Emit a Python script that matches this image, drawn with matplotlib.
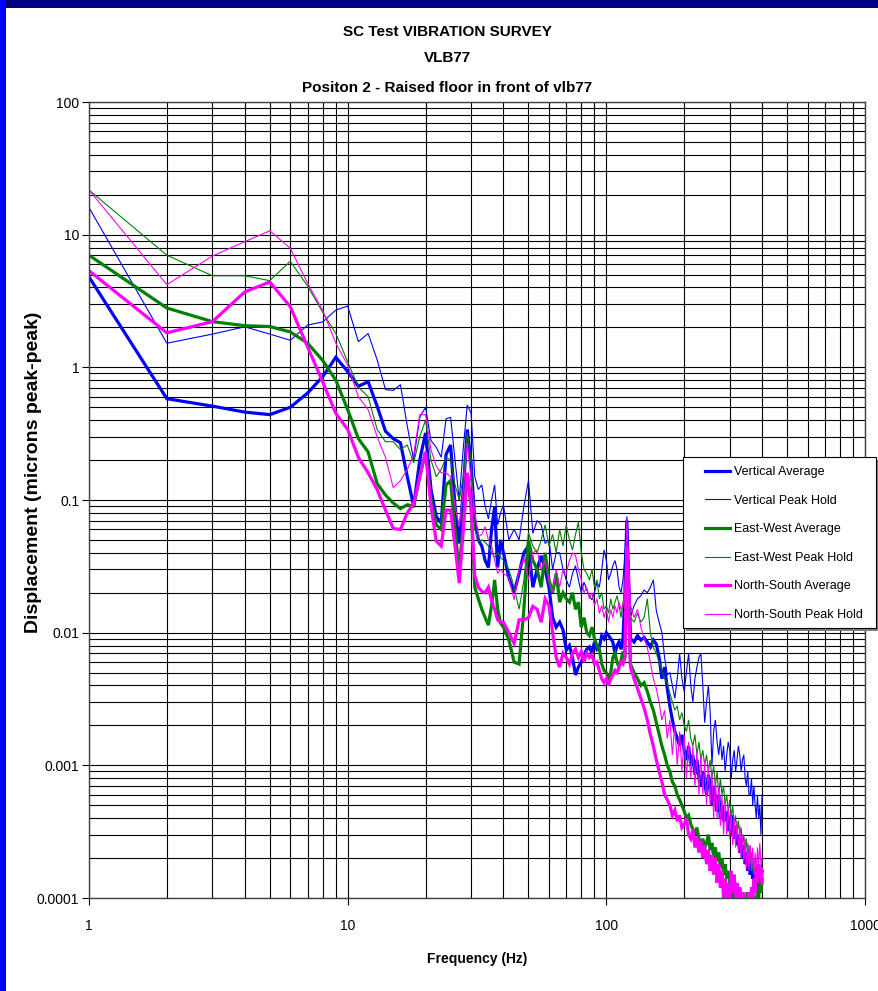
import matplotlib
matplotlib.use("Agg")
import matplotlib.pyplot as plt
from matplotlib import font_manager
from matplotlib.patches import Rectangle
from matplotlib.ticker import FixedLocator, LogLocator, NullFormatter

names = {f.name for f in font_manager.fontManager.ttflist}
NARROW = "Liberation Sans Narrow" if "Liberation Sans Narrow" in names else "Liberation Sans"
plt.rcParams['font.family'] = [NARROW, 'DejaVu Sans']

# ---------------- data ----------------
freq = list(range(1, 41)) + list(range(42, 121, 2)) + list(range(124, 401, 4))

vert_avg = [
    4.8, 0.58, 0.51, 0.46, 0.44, 0.50, 0.64, 0.85, 1.19, 0.93,
    0.72, 0.78, 0.51, 0.33, 0.29, 0.27, 0.15, 0.09, 0.2, 0.32,
    0.12, 0.075, 0.067, 0.22, 0.26, 0.09, 0.047, 0.12, 0.34, 0.19,
    0.07, 0.05, 0.045, 0.035, 0.031, 0.06, 0.089, 0.031, 0.05, 0.04,
    0.026, 0.02, 0.028, 0.04, 0.045, 0.022, 0.03, 0.038, 0.03, 0.022,
    0.013, 0.011, 0.012, 0.0105, 0.0074, 0.008, 0.0065, 0.0048, 0.0055, 0.006,
    0.0068, 0.0075, 0.0078, 0.007, 0.0085, 0.0075, 0.0078, 0.0095, 0.009, 0.01,
    0.0095, 0.009, 0.0085, 0.007, 0.008, 0.0085, 0.0075, 0.009, 0.02, 0.07,
    0.009, 0.0085, 0.0095, 0.0088, 0.0092, 0.0085, 0.0078, 0.0088, 0.0082, 0.0065,
    0.0045, 0.0055, 0.0038, 0.0028, 0.0022, 0.0018, 0.0016, 0.0014, 0.0017, 0.0013,
    0.0011, 0.0014, 0.001, 0.0012, 0.00085, 0.0011, 0.0008, 0.0007, 0.0009, 0.00075,
    0.0006, 0.00085, 0.0007, 0.0005, 0.0007, 0.00055, 0.00045, 0.0006, 0.0004, 0.0005,
    0.00038, 0.0004, 0.00045, 0.00032, 0.00035, 0.00042, 0.0003, 0.00028, 0.00035, 0.00025,
    0.0003, 0.00022, 0.00028, 0.0002, 0.00025, 0.00018, 0.00022, 0.00016, 0.0002, 0.00015,
    0.00018, 0.00014, 0.00017, 0.00013, 0.00016, 0.00012, 0.00018, 0.00014, 0.00013, 0.00016,
]

vert_peak = [
    16, 1.52, 1.78, 2.02, 1.78, 1.6, 2.08, 2.2, 2.7, 2.9,
    1.56, 1.8, 1.14, 0.68, 0.67, 0.74, 0.36, 0.2, 0.42, 0.5,
    0.28, 0.25, 0.21, 0.41, 0.42, 0.2, 0.1, 0.25, 0.52, 0.45,
    0.15, 0.12, 0.13, 0.09, 0.072, 0.1, 0.13, 0.065, 0.08, 0.092,
    0.05, 0.06, 0.05, 0.09, 0.14, 0.056, 0.07, 0.065, 0.047, 0.05,
    0.03, 0.04, 0.04, 0.03, 0.025, 0.022, 0.028, 0.032, 0.025, 0.02,
    0.024, 0.021, 0.019, 0.0177, 0.02, 0.024, 0.022, 0.03, 0.042, 0.035,
    0.025, 0.028, 0.032, 0.035, 0.03, 0.022, 0.02, 0.025, 0.04, 0.075,
    0.0132, 0.016, 0.018, 0.019, 0.021, 0.02, 0.022, 0.025, 0.0147, 0.012,
    0.01, 0.0065, 0.0048, 0.005, 0.004, 0.0032, 0.0045, 0.007, 0.0045, 0.0036,
    0.005, 0.007, 0.004, 0.003, 0.0045, 0.0055, 0.0065, 0.007, 0.004, 0.0021,
    0.003, 0.004, 0.0025, 0.001, 0.0018, 0.0022, 0.0015, 0.0012, 0.0016, 0.0011,
    0.0014, 0.0009, 0.0012, 0.0015, 0.0013, 0.0008, 0.0011, 0.0013, 0.0009, 0.0011,
    0.0014, 0.0012, 0.0009, 0.0011, 0.0012, 0.0008, 0.0007, 0.0009, 0.0006, 0.0006,
    0.0008, 0.0005, 0.0007, 0.0005, 0.0004, 0.0006, 0.0004, 0.0005, 0.0003, 0.0006,
]

ew_avg = [
    7.0, 2.8, 2.21, 2.06, 2.03, 1.85, 1.52, 1.13, 0.8, 0.48,
    0.29, 0.23, 0.133, 0.109, 0.095, 0.086, 0.092, 0.09, 0.15, 0.23,
    0.1, 0.065, 0.06, 0.13, 0.14, 0.06, 0.029, 0.07, 0.16, 0.09,
    0.022, 0.018, 0.015, 0.013, 0.0114, 0.016, 0.025, 0.015, 0.0118, 0.011,
    0.0088, 0.006, 0.0058, 0.015, 0.05, 0.035, 0.03, 0.022, 0.04, 0.025,
    0.02, 0.028, 0.017, 0.02, 0.018, 0.017, 0.02, 0.015, 0.017, 0.011,
    0.013, 0.01, 0.0095, 0.011, 0.009, 0.008, 0.0075, 0.0058, 0.0052, 0.005,
    0.0045, 0.005, 0.0065, 0.007, 0.006, 0.0055, 0.0062, 0.0072, 0.0065, 0.04,
    0.0058, 0.005, 0.0045, 0.004, 0.0042, 0.0036, 0.003, 0.0026, 0.0021, 0.0017,
    0.0014, 0.0012, 0.001, 0.0009, 0.00075, 0.0007, 0.0006, 0.00055, 0.0005, 0.00045,
    0.0004, 0.00042, 0.00036, 0.00033, 0.0003, 0.00034, 0.00028, 0.00025, 0.00028, 0.00024,
    0.00026, 0.0003, 0.00023, 0.00026, 0.0002, 0.00024, 0.00019, 0.00022, 0.00017, 0.0002,
    0.00015, 0.00018, 0.00014, 0.00016, 0.00013, 0.00012, 0.0001, 0.00011, 0.00008, 0.0001,
    0.00008, 0.0001, 0.00009, 0.00011, 0.00008, 0.0001, 0.00009, 0.00011, 0.00008, 0.0001,
    0.00009, 0.00012, 0.00008, 0.0001, 0.00009, 0.00012, 0.0001, 0.00013, 0.00011, 0.00014,
]

ew_peak = [
    21.7, 7.0, 4.9, 4.9, 4.5, 6.3, 4.1, 2.6, 1.8, 1.1,
    0.71, 0.6, 0.34, 0.275, 0.275, 0.24, 0.26, 0.19, 0.3, 0.4,
    0.2, 0.15, 0.17, 0.21, 0.2, 0.13, 0.1, 0.15, 0.32, 0.2,
    0.06, 0.049, 0.05, 0.048, 0.045, 0.04, 0.037, 0.04, 0.037, 0.035,
    0.03, 0.022, 0.015, 0.025, 0.057, 0.045, 0.04, 0.05, 0.065, 0.045,
    0.055, 0.04, 0.06, 0.045, 0.065, 0.05, 0.042, 0.055, 0.068, 0.04,
    0.03, 0.028, 0.025, 0.03, 0.022, 0.025, 0.018, 0.02, 0.015, 0.016,
    0.014, 0.018, 0.015, 0.017, 0.019, 0.016, 0.013, 0.017, 0.02, 0.04,
    0.013, 0.012, 0.014, 0.012, 0.013, 0.018, 0.01, 0.0077, 0.007, 0.006,
    0.0052, 0.0045, 0.0042, 0.0035, 0.003, 0.0026, 0.0028, 0.0022, 0.0025, 0.002,
    0.0018, 0.0022, 0.0016, 0.0014, 0.0017, 0.0012, 0.0015, 0.0011, 0.0013, 0.001,
    0.0012, 0.0009, 0.0011, 0.0008, 0.001, 0.0007, 0.0009, 0.0006, 0.0008, 0.0006,
    0.0007, 0.0005, 0.0006, 0.00045, 0.00055, 0.0004, 0.0005, 0.00035, 0.00042, 0.0003,
    0.00038, 0.0003, 0.00034, 0.00025, 0.0003, 0.00022, 0.00028, 0.0002, 0.00025, 0.00018,
    0.00022, 0.00016, 0.0002, 0.00015, 0.00018, 0.00014, 0.00017, 0.00013, 0.00016, 0.00019,
]

ns_avg = [
    5.35, 1.82, 2.21, 3.7, 4.4, 2.87, 1.43, 0.78, 0.45, 0.34,
    0.21, 0.16, 0.12, 0.084, 0.061, 0.06, 0.08, 0.094, 0.15, 0.23,
    0.09, 0.049, 0.045, 0.084, 0.084, 0.045, 0.0236, 0.06, 0.16, 0.09,
    0.027, 0.022, 0.0205, 0.02, 0.022, 0.0176, 0.015, 0.0125, 0.012, 0.012,
    0.01, 0.0083, 0.0125, 0.0125, 0.013, 0.0158, 0.015, 0.012, 0.018, 0.016,
    0.01, 0.0065, 0.0055, 0.007, 0.0065, 0.0058, 0.007, 0.0075, 0.0065, 0.0072,
    0.006, 0.007, 0.0065, 0.0068, 0.0058, 0.006, 0.0052, 0.0045, 0.0042, 0.0045,
    0.004, 0.0045, 0.0048, 0.0052, 0.005, 0.0055, 0.006, 0.0058, 0.0065, 0.045,
    0.0055, 0.0045, 0.0038, 0.0032, 0.0027, 0.0022, 0.0017, 0.0014, 0.0011, 0.0009,
    0.00075, 0.0006, 0.00055, 0.0005, 0.00042, 0.00046, 0.00038, 0.00042, 0.00034, 0.00036,
    0.0004, 0.0003, 0.00028, 0.00033, 0.00024, 0.00029, 0.00022, 0.00027, 0.0002, 0.00025,
    0.00018, 0.00023, 0.00016, 0.00021, 0.00015, 0.0002, 0.00013, 0.00018, 0.00012, 0.00016,
    0.0001, 0.00014, 0.00009, 0.00013, 0.0001, 0.00016, 0.00011, 0.00015, 0.0001, 0.00013,
    0.00009, 0.00012, 0.0001, 0.00008, 0.00011, 0.00009, 0.0001, 0.00008, 0.00011, 0.00009,
    0.00012, 0.0001, 0.00014, 0.00011, 0.00016, 0.00013, 0.00018, 0.00014, 0.00017, 0.00013,
]

ns_peak = [
    21.7, 4.2, 6.9, 8.85, 10.7, 7.9, 4.3, 2.7, 1.52, 1.04,
    0.6, 0.48, 0.3, 0.21, 0.124, 0.14, 0.17, 0.22, 0.44, 0.44,
    0.24, 0.18, 0.16, 0.16, 0.15, 0.09, 0.063, 0.12, 0.27, 0.14,
    0.08, 0.053, 0.055, 0.063, 0.05, 0.045, 0.035, 0.028, 0.03, 0.028,
    0.026, 0.0177, 0.03, 0.037, 0.025, 0.04, 0.042, 0.03, 0.035, 0.025,
    0.02, 0.03, 0.022, 0.03, 0.028, 0.035, 0.04, 0.038, 0.03, 0.025,
    0.02, 0.022, 0.018, 0.02, 0.016, 0.018, 0.014, 0.016, 0.013, 0.015,
    0.012, 0.015, 0.013, 0.016, 0.014, 0.017, 0.015, 0.016, 0.02, 0.07,
    0.016, 0.013, 0.015, 0.011, 0.009, 0.0077, 0.006, 0.0045, 0.0038, 0.003,
    0.0022, 0.0026, 0.0016, 0.0022, 0.0012, 0.002, 0.001, 0.0018, 0.0009, 0.0017,
    0.0008, 0.0015, 0.0008, 0.0014, 0.0007, 0.0013, 0.0006, 0.0012, 0.0006, 0.0011,
    0.0005, 0.001, 0.0005, 0.0009, 0.0004, 0.0008, 0.0004, 0.0007, 0.00035, 0.0006,
    0.0003, 0.00055, 0.0003, 0.0005, 0.00028, 0.00045, 0.00025, 0.0004, 0.00024, 0.00038,
    0.00022, 0.00035, 0.0002, 0.0003, 0.00018, 0.00028, 0.00017, 0.00026, 0.00016, 0.00025,
    0.00016, 0.00024, 0.00015, 0.00022, 0.00016, 0.00024, 0.00017, 0.00026, 0.00018, 0.0002,
]

series_names = ["Vertical Average", "Vertical Peak Hold", "East-West Average",
                "East-West Peak Hold", "North-South Average", "North-South Peak Hold"]
series_values = [vert_avg, vert_peak, ew_avg, ew_peak, ns_avg, ns_peak]
series_colors = ["#0000FF", "#0000FF", "#008000", "#008000", "#FF00FF", "#FF00FF"]
series_widths = [2.3, 0.8, 2.3, 0.8, 2.3, 0.8]

x_tick_vals = [1, 10, 100, 1000]
x_tick_labels = ["1", "10", "100", "1000"]
y_tick_vals = [100, 10, 1, 0.1, 0.01, 0.001, 0.0001]
y_tick_labels = ["100", "10", "1", "0.1", "0.01", "0.001", "0.0001"]

title_lines = ["SC Test VIBRATION SURVEY", "VLB77", "Positon 2 - Raised floor in front of vlb77"]

# ---------------- figure ----------------
W, H = 879, 991
fig = plt.figure(figsize=(W / 100, H / 100), dpi=100)
fig.patch.set_facecolor("white")

def fx(px):
    return px / W

def fy(py):
    return 1 - py / H

# border strips
fig.add_artist(Rectangle((0, fy(8)), 1, 8 / H, transform=fig.transFigure,
                         facecolor="#000080", edgecolor="none", zorder=-5))
fig.add_artist(Rectangle((0, 0), fx(6), 1, transform=fig.transFigure,
                         facecolor="#0000FF", edgecolor="none", zorder=-5))

ax = fig.add_axes([fx(89), fy(898), (865 - 89) / W, (898 - 102) / H])
ax.set_xscale("log")
ax.set_yscale("log")
ax.set_xlim(1, 1000)
ax.set_ylim(0.0001, 100)

ax.xaxis.set_major_locator(FixedLocator(x_tick_vals))
ax.xaxis.set_minor_locator(LogLocator(base=10, subs=range(2, 10)))
ax.yaxis.set_major_locator(FixedLocator(y_tick_vals))
ax.yaxis.set_minor_locator(LogLocator(base=10, subs=range(2, 10)))
ax.xaxis.set_minor_formatter(NullFormatter())
ax.yaxis.set_minor_formatter(NullFormatter())
ax.set_xticklabels(x_tick_labels)
ax.set_yticklabels(y_tick_labels)

ax.grid(True, which="both", color="black", linewidth=0.8)
ax.set_axisbelow(True)
ax.tick_params(which="major", length=5, width=0.8, labelsize=10)
ax.tick_params(axis="x", which="major", pad=10)
ax.tick_params(axis="y", which="major", pad=2)
ax.tick_params(which="minor", length=0)
for s in ax.spines.values():
    s.set_color("#404040")
    s.set_linewidth(1.0)

lines = []
for name, vals, col, lw in zip(series_names, series_values, series_colors, series_widths):
    ln, = ax.plot(freq, vals, color=col, linewidth=lw, label=name, solid_joinstyle="miter")
    lines.append(ln)

ax.set_xlabel("Frequency (Hz)", fontsize=10, fontweight="bold", labelpad=14)
ax.set_ylabel("Displacement (microns peak-peak)", fontsize=14, fontweight="bold",
              family=["Liberation Sans", "DejaVu Sans"])
ax.yaxis.set_label_coords((42 - 89) / 776, (898 - 472) / 796)

title_y = [32, 58, 88]
for t, ty in zip(title_lines, title_y):
    fig.text(fx(447), fy(ty), t, ha="center", va="center", fontsize=11, fontweight="bold")

# legend box with shadow
fig.add_artist(Rectangle((fx(686), fy(631)), (876 - 683) / W, (628 - 457) / H,
                         transform=fig.transFigure, facecolor="#808080",
                         edgecolor="none", zorder=4))
fig.add_artist(Rectangle((fx(683), fy(628)), (876 - 683) / W, (628 - 457) / H,
                         transform=fig.transFigure, facecolor="white",
                         edgecolor="black", linewidth=0.8, zorder=4.5))
leg = fig.legend(handles=lines, loc="upper left", bbox_to_anchor=(fx(705), fy(466)),
                 frameon=False, fontsize=9, handlelength=2.0, handletextpad=0.3,
                 labelspacing=1.33, borderpad=0, borderaxespad=0)
leg.set_zorder(5)

fig.savefig("out.png", dpi=100, facecolor=fig.get_facecolor())
